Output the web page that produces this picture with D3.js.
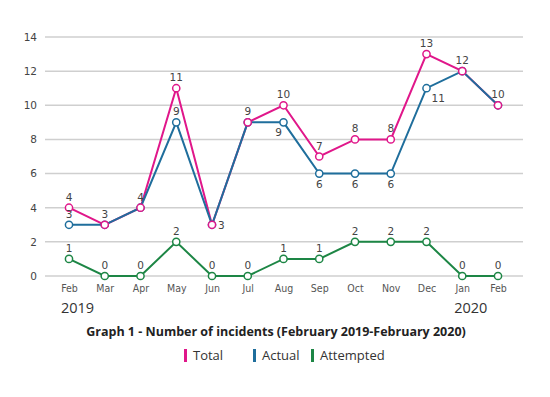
<!DOCTYPE html>
<html>
<head>
<meta charset="utf-8">
<script src="https://cdn.jsdelivr.net/npm/d3@7"></script>
<style>
  body { margin: 0; background: #fff; }
  text { font-family: "DejaVu Sans", sans-serif; }
</style>
</head>
<body>
<div id="chart"></div>
<script>
const months = ["Feb", "Mar", "Apr", "May", "Jun", "Jul", "Aug", "Sep", "Oct", "Nov", "Dec", "Jan", "Feb "];
const years = [{ at: 0, label: "2019" }, { at: 11, label: "2020" }];
const total = [4, 3, 4, 11, 3, 9, 10, 7, 8, 8, 13, 12, 10];
const actual = [3, 3, 4, 9, 3, 9, 9, 6, 6, 6, 11, 12, 10];
const attempted = [1, 0, 0, 2, 0, 0, 1, 1, 2, 2, 2, 0, 0];
const yTicks = [0, 2, 4, 6, 8, 10, 12, 14];

// where each value label sits ("n" = not drawn)
const totalPlace = ["a", "a", "a", "a", "r", "a", "a", "a", "a", "a", "a", "a", "a"];
const actualPlace = ["a", "n", "n", "a", "n", "n", "bl", "b", "b", "b", "br", "n", "n"];
const attemptedPlace = ["a", "a", "a", "a", "a", "a", "a", "a", "a", "a", "a", "a", "a"];

const series = [
  { name: "Total", values: total, place: totalPlace, color: "#e0178a" },
  { name: "Actual", values: actual, place: actualPlace, color: "#1f6e9c" },
  { name: "Attempted", values: attempted, place: attemptedPlace, color: "#1d8645" }
];

const W = 550, H = 397;
const svg = d3.select("#chart").append("svg").attr("width", W).attr("height", H);

const x = d3.scalePoint().domain(d3.range(months.length)).range([69, 498]);
const y = d3.scaleLinear().domain([0, 14]).range([276, 37]);

// gridlines
svg.append("g")
  .selectAll("line")
  .data(yTicks)
  .join("line")
  .attr("x1", 45)
  .attr("x2", 523)
  .attr("y1", d => y(d))
  .attr("y2", d => y(d))
  .attr("stroke", "#cfcfcf")
  .attr("stroke-width", 1.5);

// y axis labels
const yAxis = d3.axisLeft(y).tickValues(yTicks).tickSize(0).tickPadding(0);
const gy = svg.append("g").attr("transform", "translate(37,0)").call(yAxis);
gy.select(".domain").remove();
gy.selectAll("text").attr("fill", "#444").style("font-size", "10.5px")
  .style("font-family", "DejaVu Sans, sans-serif");

// x axis labels
const xAxis = d3.axisBottom(x).tickSize(0).tickPadding(0).tickFormat(i => months[i]);
const gx = svg.append("g").attr("transform", "translate(0,285)").call(xAxis);
gx.select(".domain").remove();
gx.selectAll("text").attr("fill", "#555").style("font-size", "10.5px")
  .style("font-family", "DejaVu Sans Condensed, sans-serif");

svg.selectAll(".year")
  .data(years)
  .join("text")
  .attr("class", "year")
  .attr("x", d => x(d.at) - 8)
  .attr("y", 313)
  .attr("fill", "#333")
  .style("font-size", "14.5px")
  .style("font-family", "Open Sans, sans-serif")
  .text(d => d.label);

const line = d3.line().x((d, i) => x(i)).y(d => y(d));

// lines: total, then actual on top, then attempted
series.forEach(s => {
  svg.append("path")
    .datum(s.values)
    .attr("fill", "none")
    .attr("stroke", s.color)
    .attr("stroke-width", 2)
    .attr("d", line);
});

// markers (total drawn last so shared points stay pink)
[series[2], series[1], series[0]].forEach(s => {
  svg.append("g")
    .selectAll("circle")
    .data(s.values)
    .join("circle")
    .attr("cx", (d, i) => x(i))
    .attr("cy", d => y(d))
    .attr("r", 3.6)
    .attr("fill", "#fff")
    .attr("stroke", s.color)
    .attr("stroke-width", 1.5);
});

// value labels
const off = {
  a: [0, -7, "middle"],
  b: [0, 14, "middle"],
  bl: [-5, 14, "middle"],
  br: [5, 14, "start"],
  r: [6, 4, "start"]
};
series.forEach(s => {
  svg.append("g")
    .selectAll("text")
    .data(s.values.map((v, i) => ({ v, i, p: s.place[i] })).filter(d => d.p !== "n"))
    .join("text")
    .attr("x", d => x(d.i) + off[d.p][0])
    .attr("y", d => y(d.v) + off[d.p][1])
    .attr("text-anchor", d => off[d.p][2])
    .attr("fill", "#444")
    .style("font-size", "10.5px")
    .text(d => d.v);
});

// title
svg.append("text")
  .attr("x", 276)
  .attr("y", 336)
  .attr("text-anchor", "middle")
  .attr("fill", "#222")
  .style("font-family", "Open Sans, sans-serif")
  .style("font-weight", "bold")
  .style("font-size", "12.5px")
  .text("Graph 1 - Number of incidents (February 2019-February 2020)");

// legend
const legendX = [184, 253, 311];
const lg = svg.append("g")
  .selectAll("g")
  .data(series)
  .join("g")
  .attr("transform", (d, i) => `translate(${legendX[i]},355)`);
lg.append("rect")
  .attr("x", 0)
  .attr("y", -6)
  .attr("width", 3)
  .attr("height", 13)
  .attr("fill", d => d.color);
lg.append("text")
  .attr("x", 9)
  .attr("y", 5)
  .attr("fill", "#333")
  .style("font-family", "Open Sans, sans-serif")
  .style("font-size", "13px")
  .text(d => d.name);
</script>
</body>
</html>
